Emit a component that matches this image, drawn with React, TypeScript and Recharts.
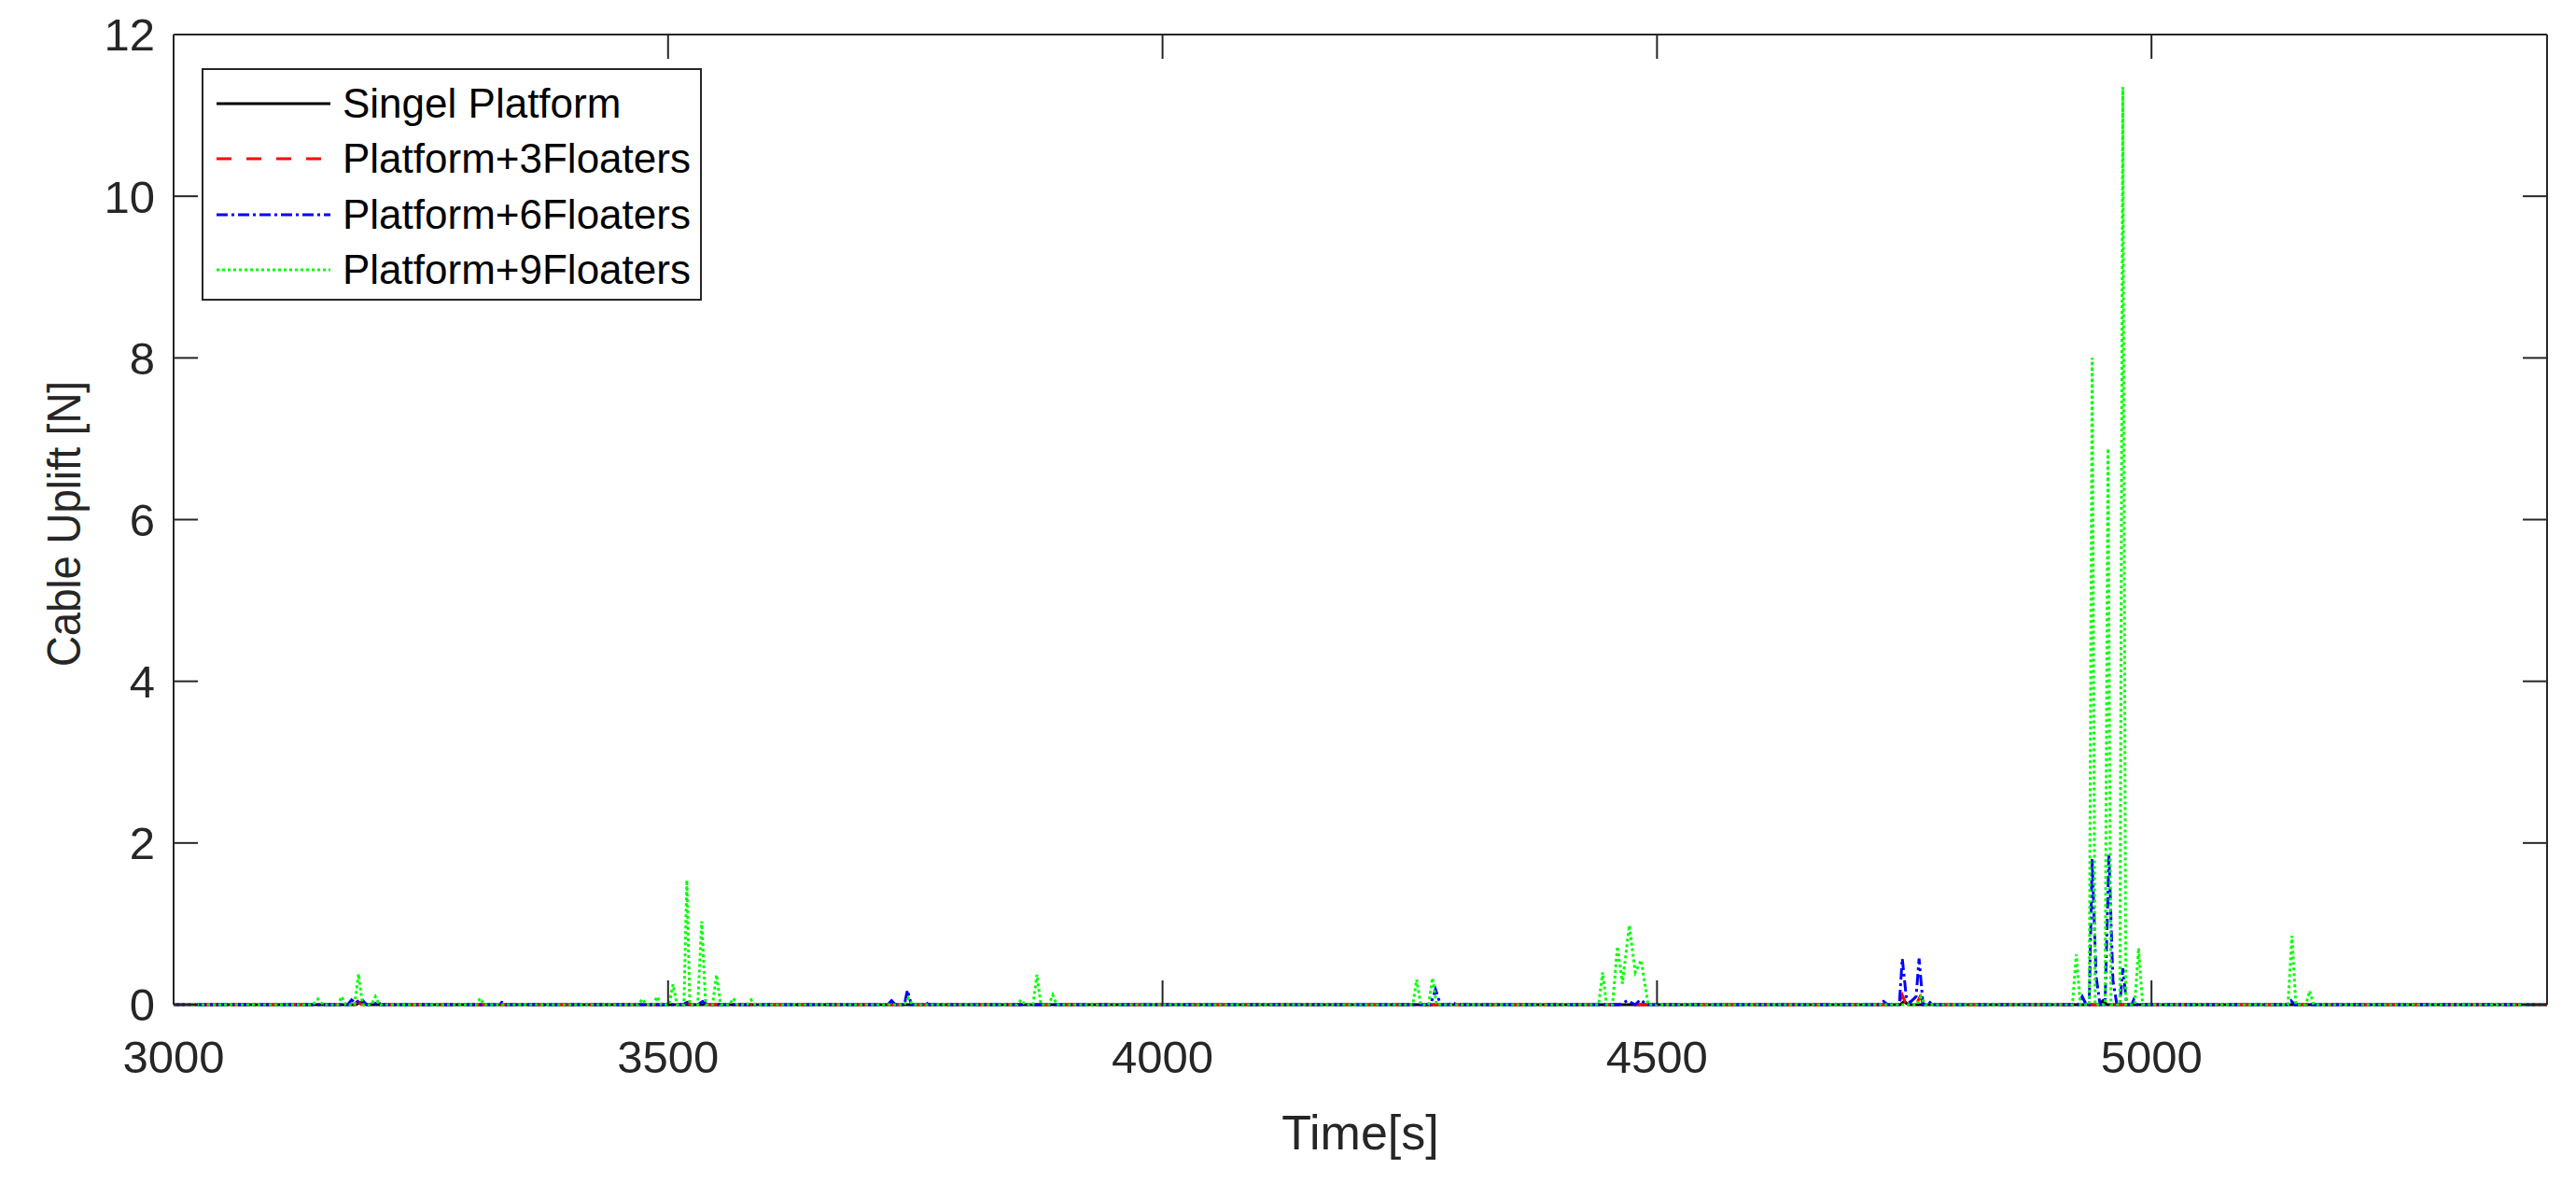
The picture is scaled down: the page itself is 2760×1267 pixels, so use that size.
import React from 'react';
import { LineChart, Line, XAxis, YAxis, Legend } from 'recharts';

// [time s, uplift N]
const singlePlatform: [number, number][] = [
  [3000, 0], [3184, 0], [3190, 0.03], [3196, 0], [4746, 0], [4750, 0.04], [4754, 0],
  [4947, 0], [4951, 0.05], [4955, 0], [5400, 0],
];

const floaters3: [number, number][] = [
  [3000, 0], [3182, 0], [3186, 0.04], [3190, 0], [3515, 0], [3519, 0.03], [3523, 0],
  [4744, 0], [4748, 0.12], [4752, 0], [4762, 0], [4766, 0.1], [4770, 0],
  [4950, 0], [4955, 0.06], [4960, 0], [5400, 0],
];

const floaters6: [number, number][] = [
  [3000, 0], [3176, 0], [3180, 0.06], [3184, 0.02], [3190, 0.07], [3195, 0], [3203, 0], [3206, 0.04], [3210, 0],
  [3328, 0], [3332, 0.03], [3336, 0], [3515, 0], [3520, 0.03], [3525, 0], [3530, 0], [3535, 0.04], [3540, 0],
  [3722, 0], [3726, 0.05], [3730, 0], [3739, 0], [3742, 0.18], [3746, 0], [3757, 0], [3760, 0.03], [3764, 0],
  [4271, 0], [4276, 0.19], [4281, 0], [4290, 0], [4293, 0.03], [4297, 0],
  [4462, 0], [4470, 0.05], [4478, 0], [4483, 0.06], [4490, 0],
  [4725, 0], [4729, 0.04], [4733, 0], [4745, 0], [4748, 0.57], [4752, 0.1], [4756, 0.03], [4762, 0.1], [4765, 0.57], [4769, 0],
  [4774, 0], [4777, 0.04], [4781, 0],
  [4926, 0], [4930, 0.1], [4934, 0], [4937, 0], [4940, 1.8], [4944, 0.35], [4948, 0], [4953, 0], [4957, 1.85], [4961, 0.3],
  [4965, 0], [4968, 0], [4971, 0.45], [4975, 0], [4980, 0], [4982, 0.06], [4985, 0],
  [5137, 0], [5141, 0.05], [5145, 0], [5400, 0],
];

const floaters9: [number, number][] = [
  [3000, 0], [3141, 0], [3146, 0.07], [3151, 0], [3166, 0], [3170, 0.1], [3174, 0], [3183, 0], [3187, 0.38], [3191, 0],
  [3200, 0], [3204, 0.1], [3208, 0], [3306, 0], [3310, 0.08], [3314, 0],
  [3470, 0], [3474, 0.07], [3478, 0], [3485, 0], [3489, 0.1], [3493, 0], [3501, 0], [3505, 0.25], [3509, 0],
  [3516, 0], [3519, 1.54], [3522, 0], [3530, 0], [3534, 1.03], [3538, 0], [3545, 0], [3549, 0.37], [3553, 0],
  [3562, 0], [3566, 0.08], [3570, 0], [3580, 0], [3584, 0.06], [3588, 0],
  [3739, 0], [3743, 0.08], [3747, 0], [3853, 0], [3857, 0.06], [3861, 0], [3869, 0], [3873, 0.37], [3877, 0],
  [3885, 0], [3889, 0.12], [3893, 0],
  [4253, 0], [4257, 0.31], [4261, 0], [4269, 0], [4273, 0.33], [4277, 0],
  [4441, 0], [4445, 0.4], [4449, 0], [4455, 0], [4460, 0.72], [4465, 0.26], [4472, 0.98], [4478, 0.4], [4484, 0.55], [4491, 0],
  [4763, 0], [4767, 0.1], [4771, 0],
  [4920, 0], [4924, 0.62], [4928, 0], [4937, 0], [4940, 8.0], [4943, 0], [4953, 0], [4956, 6.88], [4959, 0],
  [4968, 0], [4971, 11.35], [4974, 0], [4983, 0], [4987, 0.7], [4991, 0],
  [5138, 0], [5142, 0.85], [5146, 0], [5156, 0], [5160, 0.17], [5164, 0], [5400, 0],
];

const seriesNames = ['Singel Platform', 'Platform+3Floaters', 'Platform+6Floaters', 'Platform+9Floaters'];
const xTicks = [3000, 3500, 4000, 4500, 5000];
const yTicks = [0, 2, 4, 6, 8, 10, 12];

const FONT = '"Liberation Sans", Arial, Helvetica, sans-serif';
const AXIS = '#262626';

const styles = [
  { color: '#000000', dash: undefined },
  { color: '#ff0000', dash: '16 16' },
  { color: '#0000ff', dash: '12 4 3 4' },
  { color: '#00ff00', dash: '3 3' },
];

const toRows = (pts: [number, number][]) => pts.map(([t, v]) => ({ t, v }));
const seriesData = [singlePlatform, floaters3, floaters6, floaters9].map(toRows);

const LegendBox = () => (
  <div
    style={{
      width: 536, height: 249, boxSizing: 'border-box', border: `2px solid ${AXIS}`, background: '#fff',
      fontFamily: FONT, fontSize: 44, color: '#000', paddingTop: 6,
    }}
  >
    {seriesNames.map((name, i) => (
      <div key={name} style={{ display: 'flex', alignItems: 'center', height: 59.5 }}>
        <svg width={122} height={8} style={{ marginLeft: 14, marginRight: 13 }}>
          <line x1={0} y1={4} x2={122} y2={4} stroke={styles[i].color} strokeWidth={3} strokeDasharray={styles[i].dash} />
        </svg>
        <span style={{ lineHeight: 1, whiteSpace: 'nowrap' }}>{name}</span>
      </div>
    ))}
  </div>
);

const YLabel = () => (
  <text
    x={86} y={561} transform="rotate(-90 86 561)" textAnchor="middle" fill={AXIS}
    fontSize={50} fontFamily={FONT} textLength={306} lengthAdjust="spacingAndGlyphs"
  >
    Cable Uplift [N]
  </text>
);

export default function App() {
  const tickStyle = { fill: AXIS, fontSize: 49, fontFamily: FONT };
  return (
    <div style={{ width: 2760, height: 1267, background: '#fff' }}>
      <style>{'body{margin:0;background:#fff}'}</style>
      <LineChart width={2760} height={1267} margin={{ top: 36, right: 30, bottom: 0, left: 0 }}>
        <XAxis
          dataKey="t" type="number" domain={[3000, 5400]} ticks={xTicks}
          height={191} axisLine={false} stroke={AXIS} strokeWidth={2} tickSize={-26} tickMargin={64}
          tick={tickStyle}
          label={{ value: 'Time[s]', position: 'insideBottom', offset: 36, fill: AXIS, fontSize: 52, fontFamily: FONT }}
        />
        <XAxis
          xAxisId="top" orientation="top" dataKey="t" type="number" domain={[3000, 5400]} ticks={xTicks}
          height={1} stroke={AXIS} strokeWidth={2} tickSize={-26} tickFormatter={() => ''}
        />
        <YAxis
          type="number" domain={[0, 12]} ticks={yTicks} width={186}
          stroke={AXIS} strokeWidth={2} tickSize={-26} tickMargin={46} tick={tickStyle}
          label={<YLabel />}
        />
        <YAxis
          yAxisId="right" orientation="right" type="number" domain={[0, 12]} ticks={yTicks}
          width={1} stroke={AXIS} strokeWidth={2} tickSize={-26} tickFormatter={() => ''}
        />
        <Legend
          layout="vertical" align="center" verticalAlign="middle"
          wrapperStyle={{ left: 216, top: 73, width: 536, height: 249 }}
          content={<LegendBox />}
        />
        {/* invisible series so the top and right box axes get drawn */}
        <Line
          xAxisId="top" yAxisId="right" data={seriesData[3]} dataKey="v" stroke="none"
          dot={false} activeDot={false} legendType="none" isAnimationActive={false}
        />
        {seriesData.map((rows, i) => (
          <Line
            key={seriesNames[i]} name={seriesNames[i]} data={rows} dataKey="v" type="linear"
            stroke={styles[i].color} strokeWidth={3} strokeDasharray={styles[i].dash}
            dot={false} activeDot={false} isAnimationActive={false}
          />
        ))}
      </LineChart>
    </div>
  );
}
